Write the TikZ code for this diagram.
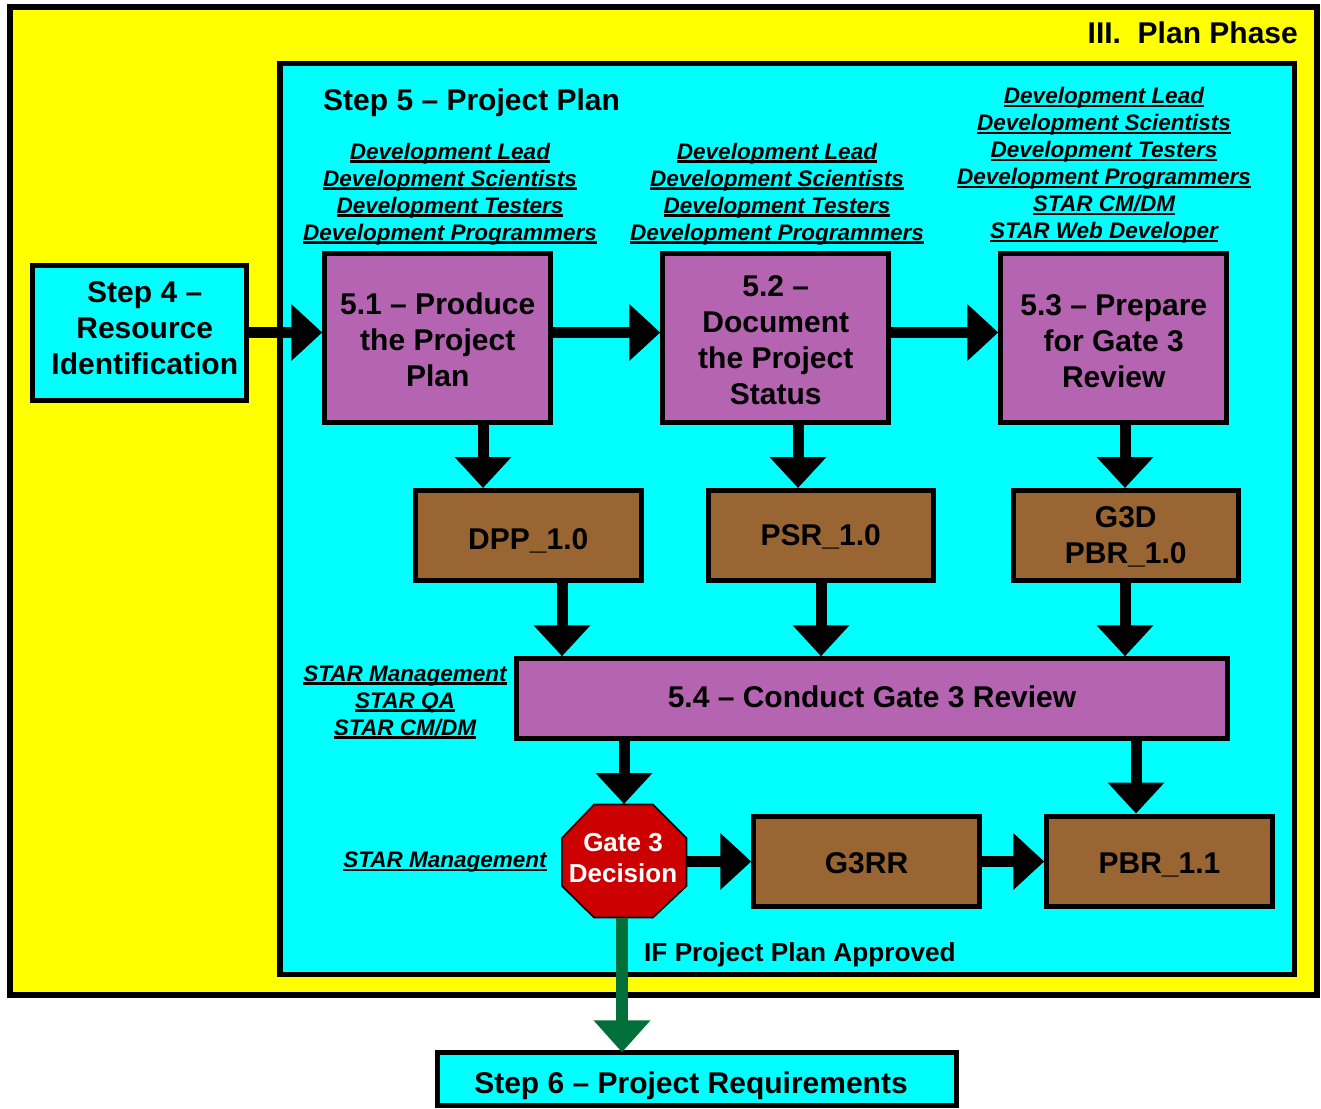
\documentclass[tikz,border=0pt]{standalone}
\usepackage{fontspec}
\setmainfont{Liberation Sans}
\usetikzlibrary{arrows.meta}
\definecolor{panelyellow}{HTML}{FFFF00}
\definecolor{panelcyan}{HTML}{00FFFF}
\definecolor{procpurple}{HTML}{B564B1}
\definecolor{docbrown}{HTML}{996633}
\definecolor{stopred}{HTML}{CC0000}
\definecolor{gogreen}{HTML}{006F3A}
\newsavebox{\rolebox}
\newcommand{\rl}[1]{\leavevmode\sbox{\rolebox}{#1}\rlap{\rule[-3.6pt]{\wd\rolebox}{2.6pt}}\usebox{\rolebox}}
\newcommand{\dn}[2]{\raisebox{-#1pt}[0pt][0pt]{\begin{tabular}[c]{@{}c@{}}#2\end{tabular}}}
\tikzset{
  x=1pt,y=-1pt,
  panel/.style={draw=black,line width=5.5pt},
  boxbase/.style={draw=black,line width=5pt,inner sep=0pt,align=center,
    font=\fontsize{30}{36}\selectfont\bfseries},
  proc/.style={boxbase,fill=procpurple,minimum width=226pt,minimum height=169pt},
  doc/.style={boxbase,fill=docbrown,minimum width=225.5pt,minimum height=90pt},
  stepbox/.style={boxbase,fill=panelcyan},
  flow/.style={draw=black,line width=11pt,-{Triangle[length=31pt,width=55pt]}},
  goflow/.style={draw=gogreen,line width=12pt,shorten >=-2pt,-{Triangle[length=32pt,width=55pt,fill=gogreen]}},
  role/.style={align=center,inner sep=0pt,font=\fontsize{22.5}{27}\selectfont\bfseries\itshape},
  heading/.style={inner sep=0pt,font=\fontsize{30}{36}\selectfont\bfseries},
}
\begin{document}
\begin{tikzpicture}
\useasboundingbox (0,0) rectangle (1321,1108);
\fill[white] (0,0) rectangle (1321,1108);
\draw[panel,fill=panelyellow] (10,7) rectangle (1317,995);
\draw[panel,fill=panelcyan] (280,63.5) rectangle (1294.5,974.5);

\node[heading,anchor=east] (phase) at (1298,33) {III.\ \ Plan Phase};
\node[heading,anchor=west] (step5) at (323,103) {Step 5 – Project Plan};

\node[stepbox,minimum width=214pt,minimum height=135pt] (s4) at (139.25,333.25) {\dn{4.75}{\hspace*{11pt}Step 4 –\\\hspace*{11pt}Resource\\\hspace*{11pt}Identification}};
\node[proc] (p1) at (437.75,338.25) {\dn{11}{5.1 – Produce\\the Project\\Plan}};
\node[proc] (p2) at (775.75,338.25) {\dn{11.75}{5.2 –\\Document\\the Project\\Status}};
\node[proc] (p3) at (1113.75,338.25) {\dn{12.75}{5.3 – Prepare\\for Gate 3\\Review}};
\node[doc] (d1) at (528.25,535.5) {\dn{13.5}{DPP\_1.0}};
\node[doc] (d2) at (820.75,535.5) {\dn{9.5}{PSR\_1.0}};
\node[doc] (d3) at (1125.75,535.5) {\dn{9.5}{G3D\\PBR\_1.0}};
\node[boxbase,fill=procpurple,minimum width=710.5pt,minimum height=79.5pt] (p4) at (872,698.5) {\dn{8.5}{5.4 – Conduct Gate 3 Review}};
\node[doc] (g3rr) at (866.5,861) {\dn{12}{G3RR}};
\node[doc] (pbr) at (1159.5,861) {\dn{12}{PBR\_1.1}};
\node[stepbox,minimum width=518.5pt,minimum height=53pt] (s6) at (697,1079.25) {\dn{13.75}{\hspace*{-12pt}Step 6 – Project Requirements}};

\draw[draw=black,line width=1.6pt,fill=stopred] (594,804.5) -- (653,804.5) -- (686.5,838) -- (686.5,886) -- (653,917.5) -- (594,917.5) -- (562,886) -- (562,838) -- cycle;
\node[inner sep=0pt,outer sep=0pt,minimum width=125pt,minimum height=114pt,align=center,text=white,font=\fontsize{26}{31}\selectfont\bfseries] (gate) at (623,861) {\dn{6}{Gate 3\\Decision}};

\node[role] (r1) at (450,194) {\rl{Development Lead}\\\rl{Development Scientists}\\\rl{Development Testers}\\\rl{Development Programmers}};
\node[role] (r2) at (777,194) {\rl{Development Lead}\\\rl{Development Scientists}\\\rl{Development Testers}\\\rl{Development Programmers}};
\node[role] (r3) at (1104,165.5) {\rl{Development Lead}\\\rl{Development Scientists}\\\rl{Development Testers}\\\rl{Development Programmers}\\\rl{STAR CM/DM}\\\rl{STAR Web Developer}};
\node[role] (r4) at (405,702) {\rl{STAR Management}\\\rl{STAR QA}\\\rl{STAR CM/DM}};
\node[role] (r5) at (445,862) {\rl{STAR Management}};
\node[anchor=west,inner sep=0pt,font=\fontsize{26.2}{31}\selectfont\bfseries] (ifok) at (644,955) {IF Project Plan Approved};

\draw[flow] (s4.east |- 0,332.5) -- (p1.west |- 0,332.5);
\draw[flow] (p1.east |- 0,332.5) -- (p2.west |- 0,332.5);
\draw[flow] (p2.east |- 0,332.5) -- (p3.west |- 0,332.5);
\draw[flow] (p1.south -| 483,0) -- (d1.north -| 483,0);
\draw[flow] (p2.south -| 798,0) -- (d2.north -| 798,0);
\draw[flow] (p3.south -| 1125,0) -- (d3.north -| 1125,0);
\draw[flow] (d1.south -| 562,0) -- (p4.north -| 562,0);
\draw[flow] (d2.south -| 821,0) -- (p4.north -| 821,0);
\draw[flow] (d3.south -| 1125,0) -- (p4.north -| 1125,0);
\draw[flow] (p4.south -| 624,0) -- (gate.north -| 624,0);
\draw[flow] (p4.south -| 1136,0) -- (pbr.north -| 1136,0);
\draw[flow] (gate.east |- 0,861.5) -- (g3rr.west |- 0,861.5);
\draw[flow] (g3rr.east |- 0,861.5) -- (pbr.west |- 0,861.5);
\draw[goflow] (gate.south -| 622,0) -- (s6.north -| 622,0);
\end{tikzpicture}
\end{document}
